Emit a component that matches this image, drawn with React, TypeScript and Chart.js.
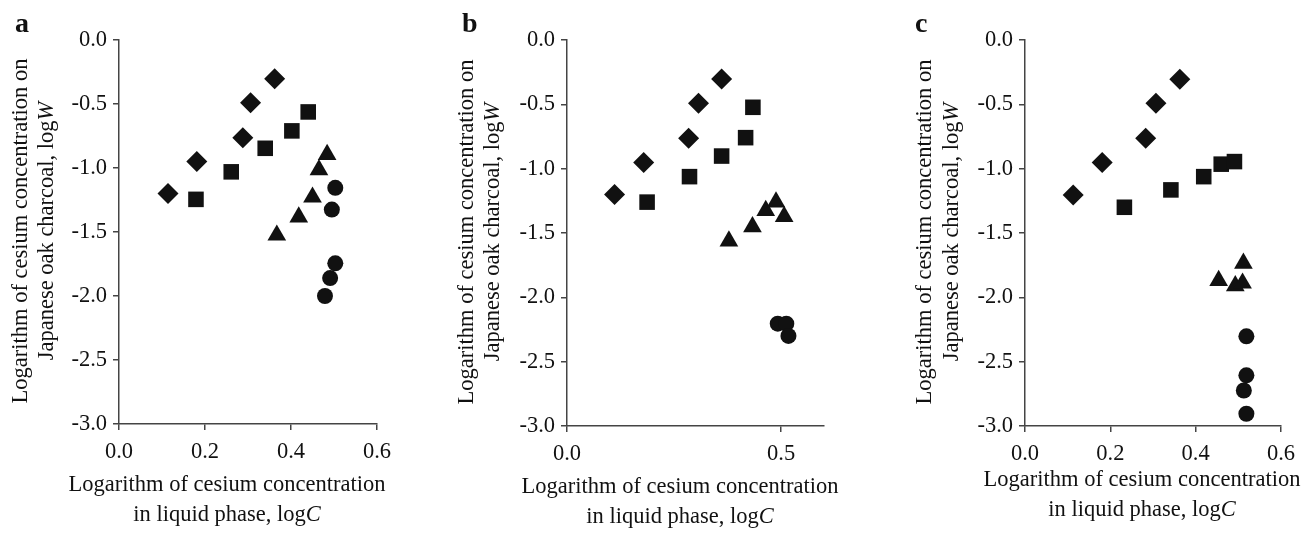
import React, { useEffect, useRef } from "react";
import { Chart, registerables } from "chart.js";

Chart.register(...registerables);

// ---------- data ----------
const yTicks = [0, -0.5, -1, -1.5, -2, -2.5, -3];
const xTicksAC = [0, 0.2, 0.4, 0.6];
const xTicksB = [0, 0.5];

// panel a
const aDiamondX = [0.114, 0.181, 0.288, 0.306, 0.362];
const aDiamondY = [-1.2, -0.95, -0.763, -0.49, -0.303];
const aSquareX = [0.179, 0.261, 0.34, 0.402, 0.44];
const aSquareY = [-1.245, -1.03, -0.846, -0.71, -0.562];
const aTriangleX = [0.367, 0.418, 0.45, 0.465, 0.484];
const aTriangleY = [-1.525, -1.383, -1.228, -1.015, -0.895];
const aCircleX = [0.503, 0.495, 0.503, 0.491, 0.479];
const aCircleY = [-1.155, -1.325, -1.745, -1.86, -2.0];

// panel b
const bDiamondX = [0.111, 0.179, 0.284, 0.307, 0.361];
const bDiamondY = [-1.2, -0.952, -0.764, -0.492, -0.303];
const bSquareX = [0.187, 0.286, 0.361, 0.417, 0.434];
const bSquareY = [-1.26, -1.062, -0.902, -0.759, -0.523];
const bTriangleX = [0.378, 0.433, 0.464, 0.488, 0.507];
const bTriangleY = [-1.562, -1.452, -1.325, -1.26, -1.372];
const bCircleX = [0.492, 0.512, 0.517];
const bCircleY = [-2.205, -2.205, -2.3];

// panel c
const cDiamondX = [0.113, 0.181, 0.283, 0.307, 0.363];
const cDiamondY = [-1.205, -0.953, -0.764, -0.492, -0.306];
const cSquareX = [0.233, 0.342, 0.419, 0.46, 0.491];
const cSquareY = [-1.3, -1.165, -1.062, -0.965, -0.945];
const cTriangleX = [0.454, 0.493, 0.51, 0.512];
const cTriangleY = [-1.87, -1.91, -1.89, -1.735];
const cCircleX = [0.519, 0.519, 0.513, 0.519];
const cCircleY = [-2.303, -2.606, -2.724, -2.905];

// ---------- text ----------
const xTitleLine1 = "Logarithm of cesium concentration";
const xTitleLine2 = "in liquid phase, log";
const xTitleVar = "C";
const yTitleLine1 = "Logarithm of cesium concentration on";
const yTitleLine2 = "Japanese oak charcoal, log";
const yTitleVar = "W";

// ---------- style / layout ----------
const FAMILY = '"Liberation Serif", "Times New Roman", serif';
const FS = 22.5;
const FONT = `${FS}px ${FAMILY}`;
const ITALIC = `italic ${FS}px ${FAMILY}`;
const BOLD = `bold 28px ${FAMILY}`;
const INK = "#111111";
const AXIS = "#444444";
const Y_W = 60;
const X_H = 40;
const W = 1304;
const H = 534;

type Panel = {
  letter: string;
  letterX: number;
  letterY: number;
  left: number;
  right: number;
  top: number;
  bottom: number;
  xMax: number;
  xTicks: number[];
  yTitleX: number[];
  yTitleY: number;
  xTitleX: number;
  xTitleY: number[];
  series: { x: number[]; y: number[]; style: string; r: number }[];
};

const R_DIAMOND = 10.5;
const R_SQUARE = 11;
const R_TRIANGLE = 10.8;
const R_CIRCLE = 8;

const panels: Panel[] = [
  {
    letter: "a", letterX: 15, letterY: 32,
    left: 119, right: 377, top: 40, bottom: 424,
    xMax: 0.6, xTicks: xTicksAC,
    yTitleX: [21, 47], yTitleY: 231,
    xTitleX: 227, xTitleY: [485, 515],
    series: [
      { x: aDiamondX, y: aDiamondY, style: "rectRot", r: R_DIAMOND },
      { x: aSquareX, y: aSquareY, style: "rect", r: R_SQUARE },
      { x: aTriangleX, y: aTriangleY, style: "triangle", r: R_TRIANGLE },
      { x: aCircleX, y: aCircleY, style: "circle", r: R_CIRCLE },
    ],
  },
  {
    letter: "b", letterX: 462, letterY: 32,
    left: 567, right: 824, top: 40, bottom: 426,
    xMax: 0.6, xTicks: xTicksB,
    yTitleX: [467, 493], yTitleY: 232,
    xTitleX: 680, xTitleY: [487, 517],
    series: [
      { x: bDiamondX, y: bDiamondY, style: "rectRot", r: R_DIAMOND },
      { x: bSquareX, y: bSquareY, style: "rect", r: R_SQUARE },
      { x: bTriangleX, y: bTriangleY, style: "triangle", r: R_TRIANGLE },
      { x: bCircleX, y: bCircleY, style: "circle", r: R_CIRCLE },
    ],
  },
  {
    letter: "c", letterX: 915, letterY: 32,
    left: 1025, right: 1283, top: 40, bottom: 426,
    xMax: 0.6, xTicks: xTicksAC,
    yTitleX: [925, 952], yTitleY: 232,
    xTitleX: 1142, xTitleY: [480, 510],
    series: [
      { x: cDiamondX, y: cDiamondY, style: "rectRot", r: R_DIAMOND },
      { x: cSquareX, y: cSquareY, style: "rect", r: R_SQUARE },
      { x: cTriangleX, y: cTriangleY, style: "triangle", r: R_TRIANGLE },
      { x: cCircleX, y: cCircleY, style: "circle", r: R_CIRCLE },
    ],
  },
];

function drawMixed(ctx: CanvasRenderingContext2D, parts: [string, string][], cx: number, cy: number) {
  let total = 0;
  const widths = parts.map(([t, f]) => {
    ctx.font = f;
    const w = ctx.measureText(t).width;
    total += w;
    return w;
  });
  let x = cx - total / 2;
  ctx.textAlign = "left";
  ctx.textBaseline = "middle";
  parts.forEach(([t, f], i) => {
    ctx.font = f;
    ctx.fillText(t, x, cy);
    x += widths[i];
  });
}

function textPlugin(p: Panel) {
  return {
    id: "panelText" + p.letter,
    afterDraw(chart: any) {
      const ctx: CanvasRenderingContext2D = chart.ctx;
      ctx.save();
      ctx.fillStyle = INK;
      ctx.font = BOLD;
      ctx.textAlign = "left";
      ctx.textBaseline = "alphabetic";
      ctx.fillText(p.letter, p.letterX, p.letterY);

      drawMixed(ctx, [[xTitleLine1, FONT]], p.xTitleX, p.xTitleY[0]);
      drawMixed(ctx, [[xTitleLine2, FONT], [xTitleVar, ITALIC]], p.xTitleX, p.xTitleY[1]);

      ctx.save();
      ctx.translate(p.yTitleX[0], p.yTitleY);
      ctx.rotate(-Math.PI / 2);
      drawMixed(ctx, [[yTitleLine1, FONT]], 0, 0);
      ctx.restore();

      ctx.save();
      ctx.translate(p.yTitleX[1], p.yTitleY);
      ctx.rotate(-Math.PI / 2);
      drawMixed(ctx, [[yTitleLine2, FONT], [yTitleVar, ITALIC]], 0, 0);
      ctx.restore();

      ctx.restore();
    },
  };
}

function makeChart(canvas: HTMLCanvasElement, p: Panel) {
  const axisCommon = {
    type: "linear" as const,
    grid: {
      drawOnChartArea: false,
      drawTicks: true,
      tickLength: 6,
      color: AXIS,
      lineWidth: 1.5,
    },
    border: { display: true, color: AXIS, width: 1.5 },
  };
  return new Chart(canvas, {
    type: "scatter",
    data: {
      datasets: p.series.map((s) => ({
        data: s.x.map((x, i) => ({ x, y: s.y[i] })),
        pointStyle: s.style as any,
        pointRadius: s.r,
        pointHoverRadius: s.r,
        pointBackgroundColor: INK,
        pointBorderColor: INK,
        pointBorderWidth: 0,
        showLine: false,
      })),
    },
    options: {
      responsive: false,
      animation: false,
      devicePixelRatio: 1,
      events: [],
      layout: {
        padding: {
          left: p.left - Y_W,
          right: W - p.right,
          top: p.top,
          bottom: H - p.bottom - X_H,
        },
      },
      plugins: { legend: { display: false }, tooltip: { enabled: false }, title: { display: false } },
      scales: {
        x: {
          ...axisCommon,
          position: "bottom",
          min: 0,
          max: p.xMax,
          afterFit: (s: any) => {
            s.height = X_H;
          },
          afterBuildTicks: (s: any) => {
            s.ticks = p.xTicks.map((v) => ({ value: v }));
          },
          ticks: {
            font: { family: FAMILY, size: FS },
            color: INK,
            padding: 9,
            maxRotation: 0,
            autoSkip: false,
            callback: (v: any) => Number(v).toFixed(1),
          },
        },
        y: {
          ...axisCommon,
          position: "left",
          min: -3,
          max: 0,
          afterFit: (s: any) => {
            s.width = Y_W;
          },
          afterBuildTicks: (s: any) => {
            s.ticks = yTicks.map((v) => ({ value: v }));
          },
          ticks: {
            font: { family: FAMILY, size: FS },
            color: INK,
            padding: 6,
            autoSkip: false,
            callback: (v: any) => Number(v).toFixed(1),
          },
        },
      },
    } as any,
    plugins: [textPlugin(p)],
  });
}

export default function App() {
  const refs = [useRef<HTMLCanvasElement>(null), useRef<HTMLCanvasElement>(null), useRef<HTMLCanvasElement>(null)];
  useEffect(() => {
    const charts = panels.map((p, i) => makeChart(refs[i].current as HTMLCanvasElement, p));
    return () => charts.forEach((c) => c.destroy());
  }, []);
  return (
    <div style={{ position: "fixed", left: 0, top: 0, width: W, height: H, background: "#ffffff" }}>
      {panels.map((p, i) => (
        <canvas
          key={p.letter}
          ref={refs[i]}
          width={W}
          height={H}
          style={{ position: "absolute", left: 0, top: 0, width: W, height: H }}
        />
      ))}
    </div>
  );
}
